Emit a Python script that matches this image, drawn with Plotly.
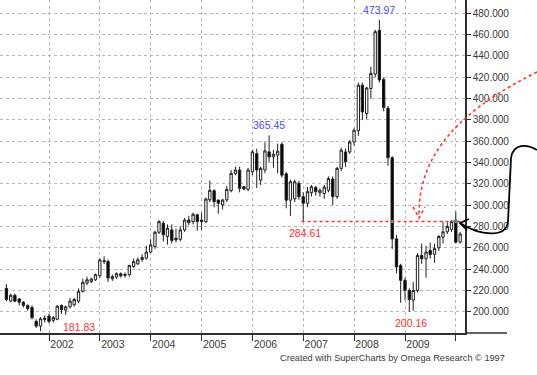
import plotly.graph_objects as go

# ---------------- data (monthly candles, Mar 2001 .. Feb 2010) ----------------
months = [f"{y}-{m:02d}-01" for y in range(2001, 2011) for m in range(1, 13)][2:110]

open_ = [
    222, 210, 215.5, 212, 209, 206, 204, 191, 186.6, 194,
    196, 192, 193, 205.9, 201.5, 204.6, 206.5, 210, 219.2, 227, 228.2, 230,
    233.8, 247, 247.2, 231, 232.6, 235.7, 235, 234.8, 242.3, 245, 249, 250.3,
    256, 261.3, 274.6, 283, 270.6, 276.8, 269, 268, 276.8, 286, 284.6, 291,
    286, 284.6, 305, 313.6, 304.9, 300.2, 305, 313.6, 329.8, 333, 317.3, 315,
    331.3, 348.4, 323.6, 333, 350, 345.3, 347, 357.2, 329.4, 304.7, 306, 320.5,
    308, 301.8, 311.7, 316.7, 311.7, 311, 314, 324.5, 308, 334.5, 350, 350,
    359.3, 370, 412.6, 386, 409.5, 423, 464, 418, 391, 344.5, 268.4, 243.5,
    229.5, 220, 211, 220, 252.8, 249.7, 257.5, 254, 260, 270, 275, 277,
    286, 265.3,
]
high = [
    226, 217, 217, 213, 210, 207, 206, 193, 195, 196.5,
    198, 196, 206, 207, 206, 213, 213, 222, 231, 233, 232, 236,
    250, 252, 249, 235, 237, 237, 237, 244, 250, 251, 254, 262,
    268, 276, 286, 285, 282, 282, 278, 280, 288, 290, 293, 292,
    293, 307, 323, 315, 305, 306, 318, 333, 336, 336, 318, 335,
    352, 353, 336, 359, 365.45, 352, 357.8, 359, 331, 324, 324, 323,
    312, 317, 319, 318, 316, 319, 327, 327, 336, 354, 353, 361,
    372, 415, 415, 411, 430, 464.5, 473.97, 420, 393, 346, 272, 245,
    232, 222, 228, 255, 264, 262, 265, 264, 272, 284.6, 284, 286,
    294, 275,
]
low = [
    210, 209, 209, 206, 204, 201, 193, 185, 181.83, 190,
    189, 190, 192, 198, 197, 203, 205, 208, 218, 225, 227, 229,
    232, 245, 228, 229, 231, 232, 232, 233, 241, 244, 247, 249,
    255, 259, 273, 266, 263, 264, 265, 266, 275, 281, 282, 276,
    277, 283, 303, 298, 292, 296, 303, 312, 328, 312, 314, 313,
    328, 316, 319, 330, 340, 335, 329.8, 326, 297, 290, 303, 305,
    284.61, 298, 308, 309, 308, 306, 312, 300.2, 306, 332, 336, 348,
    356, 365, 380, 381, 400, 420, 415, 388, 337, 259, 236, 208.4,
    211, 200.16, 201, 218, 245, 232, 250, 246, 257, 264, 273, 275,
    264, 264,
]
close = [
    211.5, 215.5, 210, 209, 206, 203, 194.4, 186.6, 193.5, 193,
    191, 194.5, 205.3, 202, 204.6, 210, 211.5, 219.2, 227.6, 230, 230.7, 234.8,
    248.7, 247.8, 231.7, 233, 235.7, 233.8, 234.2, 243.5, 247, 248.8, 251, 256,
    262.8, 274.6, 284.6, 272.2, 278.4, 266.9, 267.5, 276.8, 286, 283.7, 291.5, 284.6,
    284.6, 305.8, 314, 303.3, 301.8, 304.9, 314.8, 329.8, 333, 315.8, 315.2, 333,
    350, 333, 334.5, 350.9, 345.3, 347.8, 350.6, 328.2, 304.7, 322, 322, 308,
    301.8, 312.7, 317.3, 312.7, 314, 317, 325, 308, 334.5, 351.6, 340.7, 359.3,
    370.3, 412.6, 387.5, 410, 423.6, 462.8, 417.5, 391.6, 344.5, 268.4, 242, 229.5,
    220.2, 211.5, 220, 252.8, 249.7, 256, 253.8, 259.3, 270.6, 275, 280, 284.6,
    265.3, 273,
]

year_ticks = ["2002-01-01", "2003-01-01", "2004-01-01", "2005-01-01", "2006-01-01",
              "2007-01-01", "2008-01-01", "2009-01-01", "2010-01-01"]
year_labels = ["2002", "2003", "2004", "2005", "2006", "2007", "2008", "2009", ""]
price_ticks = [200, 220, 240, 260, 280, 300, 320, 340, 360, 380, 400, 420, 440, 460, 480]

highs_marked = [("2006-05-01", 365.45), ("2008-07-01", 473.97)]
lows_marked = [("2007-01-01", 284.61), ("2009-02-01", 200.16)]
low_2001 = ("2001-11-01", 181.83)
support_level = 284.61
support_touch = ["2008-10-01", "2010-01-01"]

footer = "Created with SuperCharts by Omega Research © 1997"

# ---------------- figure ----------------
W, H = 537, 375
ML, MR, MT, MB = 0, 72, 0, 42
PW, PH = W - ML - MR, H - MT - MB
FONT = "Arial, Liberation Sans, sans-serif"
TXT = "#3a3a3a"
BLUE = "#4a4aff"
RED = "#ff3030"


def P(px, py):
    return px / PW, 1 - py / PH


fig = go.Figure()
fig.add_trace(go.Candlestick(
    x=months, open=open_, high=high, low=low, close=close,
    increasing=dict(fillcolor="white", line=dict(color="#202020", width=1)),
    decreasing=dict(fillcolor="black", line=dict(color="#202020", width=1)),
    whiskerwidth=0, showlegend=False, hoverinfo="skip",
))
fig.add_trace(go.Scatter(
    x=support_touch, y=[support_level] * len(support_touch), mode="markers",
    marker=dict(symbol="square", size=3, color="#20a8a8"),
    showlegend=False, hoverinfo="skip",
))

shapes = []
shapes.append(dict(type="line", xref="x", yref="y", x0="2006-12-20", x1="2010-03-08",
                   y0=support_level, y1=support_level,
                   line=dict(color=RED, width=1.5, dash="dot"), layer="above"))
shapes.append(dict(type="line", xref="paper", yref="paper", x0=1, x1=507 / PW, y0=0, y1=0,
                   line=dict(color="#303030", width=1.5)))

a = P(537, 72); b = P(465, 108); c = P(419, 150); d = P(419, 214)
shapes.append(dict(type="path", xref="paper", yref="paper",
                   path=f"M {a[0]},{a[1]} C {b[0]},{b[1]} {c[0]},{c[1]} {d[0]},{d[1]}",
                   line=dict(color=RED, width=1.6, dash="dot")))
h1 = P(413, 207); h2 = P(419, 218); h3 = P(425, 207)
shapes.append(dict(type="path", xref="paper", yref="paper",
                   path=f"M {h1[0]},{h1[1]} L {h2[0]},{h2[1]} L {h3[0]},{h3[1]}",
                   line=dict(color=RED, width=1.6, dash="dot")))

p0 = P(537, 150); p1 = P(527, 144); p2 = P(513, 143); p3 = P(511, 158)
p4 = P(508, 222); p5 = P(506, 238); p6 = P(480, 236); p7 = P(460, 223)
shapes.append(dict(type="path", xref="paper", yref="paper",
                   path=(f"M {p0[0]},{p0[1]} C {p1[0]},{p1[1]} {p2[0]},{p2[1]} {p3[0]},{p3[1]} "
                         f"L {p4[0]},{p4[1]} C {p5[0]},{p5[1]} {p6[0]},{p6[1]} {p7[0]},{p7[1]}"),
                   line=dict(color="black", width=1.8)))
k1 = P(469, 219); k2 = P(460, 223); k3 = P(467, 230)
shapes.append(dict(type="path", xref="paper", yref="paper",
                   path=f"M {k1[0]},{k1[1]} L {k2[0]},{k2[1]} L {k3[0]},{k3[1]}",
                   line=dict(color="black", width=1.8)))

annotations = []
for dx, v in highs_marked:
    annotations.append(dict(x=dx, y=v, xref="x", yref="y", text=f"{v:.2f}", showarrow=False,
                            yanchor="bottom", yshift=2, font=dict(color=BLUE, size=10.5, family=FONT)))
for dx, v in lows_marked:
    annotations.append(dict(x=dx, y=v, xref="x", yref="y", text=f"{v:.2f}", showarrow=False,
                            yanchor="top", yshift=-3, xshift=2, font=dict(color=RED, size=10.5, family=FONT)))
annotations.append(dict(x=low_2001[0], y=low_2001[1], xref="x", yref="y", text=f"{low_2001[1]:.2f}",
                        showarrow=False, yanchor="middle", xanchor="center", xshift=38, yshift=4,
                        font=dict(color=RED, size=10.5, family=FONT)))
annotations.append(dict(x=507 / PW, y=1 - 358 / PH, xref="paper", yref="paper", text=footer,
                        showarrow=False, xanchor="right", yanchor="middle",
                        font=dict(color=TXT, size=9.2, family=FONT)))

fig.update_layout(
    width=W, height=H,
    margin=dict(l=ML, r=MR, t=MT, b=MB, pad=0),
    paper_bgcolor="white", plot_bgcolor="white",
    boxgap=0.15,
    shapes=shapes, annotations=annotations,
    font=dict(family=FONT, color=TXT, size=10.5),
    xaxis=dict(
        type="date", range=["2001-01-14", "2010-03-08"],
        tickvals=year_ticks, ticktext=year_labels,
        showgrid=True, gridcolor="#b8b8b8", griddash="dot", gridwidth=1,
        ticks="outside", ticklen=6, tickcolor="#303030", tickwidth=1,
        showline=True, linecolor="#303030", linewidth=1.5,
        zeroline=False, rangeslider=dict(visible=False),
        ticklabelshift=13, ticklabelstandoff=-5,
        tickfont=dict(size=10.5, color=TXT),
    ),
    yaxis=dict(
        side="right", range=[180.1, 492.5],
        tickvals=price_ticks, tickformat=".3f",
        showgrid=True, gridcolor="#b8b8b8", griddash="dot", gridwidth=1,
        ticks="outside", ticklen=4, tickcolor="#303030",
        showline=True, linecolor="#303030", linewidth=1.5,
        zeroline=False, ticklabelstandoff=0,
        tickfont=dict(size=10, color=TXT),
    ),
)

fig.write_html("out.html", config={"displayModeBar": False},
               post_script="document.body.style.margin='0px';")
